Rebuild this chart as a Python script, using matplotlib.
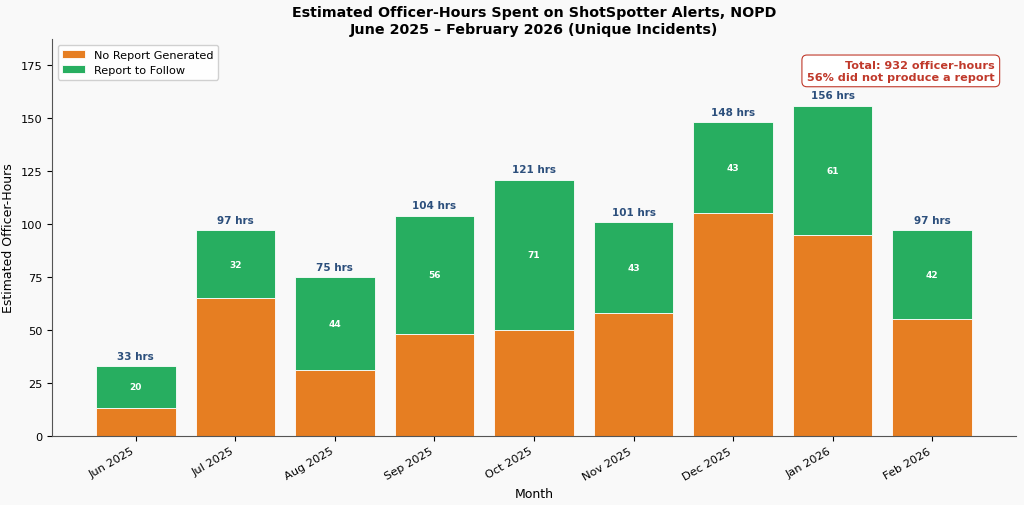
import matplotlib.pyplot as plt
import numpy as np

months = ["Jun 2025", "Jul 2025", "Aug 2025", "Sep 2025", "Oct 2025",
          "Nov 2025", "Dec 2025", "Jan 2026", "Feb 2026"]
no_report = [13, 65, 31, 48, 50, 58, 105, 95, 55]
report_follow = [20, 32, 44, 56, 71, 43, 43, 61, 42]

orange = "#e67e22"
green = "#27ae60"
bg = "#f9f9f9"

fig, ax = plt.subplots(figsize=(10.24, 5.06), dpi=100)
fig.patch.set_facecolor(bg)
ax.set_facecolor(bg)

x = np.arange(len(months))
nr = np.array(no_report)
rf = np.array(report_follow)
tot = nr + rf

ax.bar(x, nr, width=0.8, color=orange, edgecolor="white", linewidth=0.6, label="No Report Generated")
ax.bar(x, rf, width=0.8, bottom=nr, color=green, edgecolor="white", linewidth=0.6, label="Report to Follow")

for i in range(len(x)):
    ax.text(x[i], nr[i] + rf[i] / 2, str(rf[i]), ha="center", va="center",
            color="white", fontsize=6.5, fontweight="bold")
    ax.text(x[i], tot[i] + 2.5, f"{tot[i]} hrs", ha="center", va="bottom",
            color="#2c4f7c", fontsize=7.5, fontweight="bold")

ax.set_ylim(0, tot.max() * 1.2)
ax.set_xticks(x)
ax.set_xticklabels(months, rotation=30, ha="right", fontsize=8.2)
ax.tick_params(axis="y", labelsize=8.2)
ax.set_xlabel("Month", fontsize=9)
ax.set_ylabel("Estimated Officer-Hours", fontsize=9)
ax.set_title("Estimated Officer-Hours Spent on ShotSpotter Alerts, NOPD\n"
             "June 2025 \u2013 February 2026 (Unique Incidents)",
             fontsize=10.3, fontweight="bold", pad=5)

ax.spines["top"].set_visible(False)
ax.spines["right"].set_visible(False)
for s in ["left", "bottom"]:
    ax.spines[s].set_color("#555555")

pct = round(100 * nr.sum() / tot.sum())
ax.text(0.978, 0.948, f"Total: {tot.sum()} officer-hours\n{pct}% did not produce a report",
        transform=ax.transAxes, ha="right", va="top", fontsize=8.1, fontweight="bold",
        color="#c0392b", multialignment="right",
        bbox=dict(boxstyle="round,pad=0.45", facecolor="white", edgecolor="#c0392b", linewidth=0.8))

ax.legend(loc="upper left", fontsize=8.1, facecolor="white", framealpha=0.9)

fig.subplots_adjust(left=0.051, right=0.992, top=0.92, bottom=0.137)
fig.savefig("out.png", dpi=100, facecolor=bg)
